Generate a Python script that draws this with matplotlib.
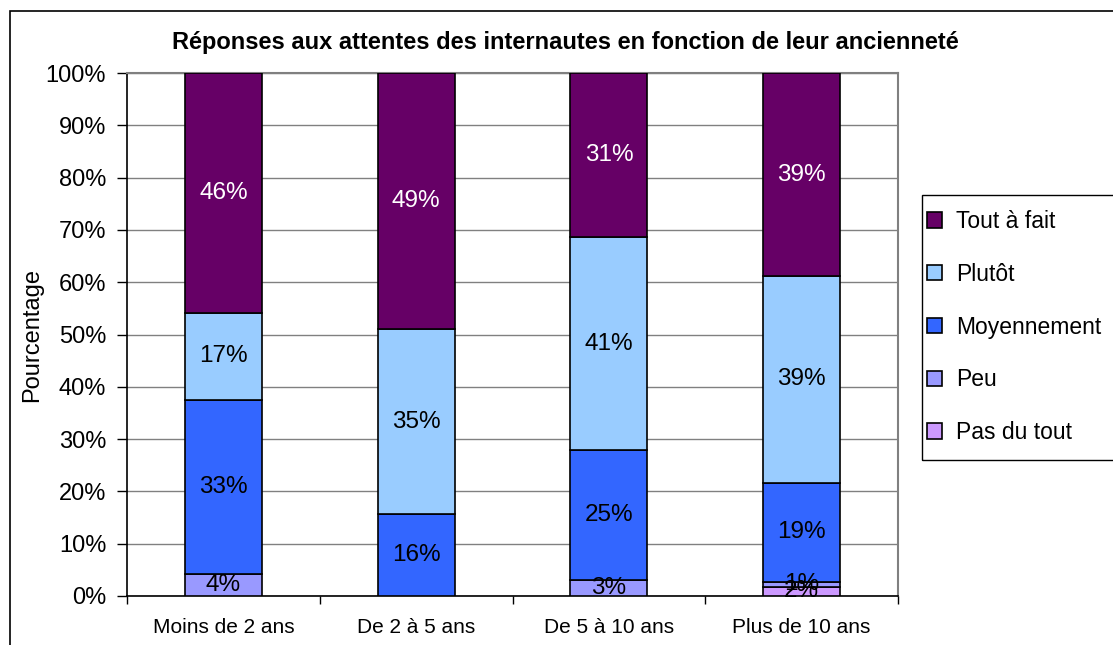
import numpy as np
import matplotlib.pyplot as plt
from matplotlib.patches import Rectangle

plt.rcParams['font.family'] = ['Liberation Sans', 'DejaVu Sans']

categories = ['Moins de 2 ans', 'De 2 à 5 ans', 'De 5 à 10 ans', 'Plus de 10 ans']
series = ['Pas du tout', 'Peu', 'Moyennement', 'Plutôt', 'Tout à fait']
pas_du_tout = [0.0, 0.0, 0.0, 1.8]
peu = [4.2, 0.0, 3.1, 0.8]
moyennement = [33.3, 15.6, 24.8, 19.1]
plutot = [16.6, 35.4, 40.7, 39.4]
tout_a_fait = [45.9, 49.0, 31.4, 38.9]
colors = ['#CC99FF', '#9999FF', '#3366FF', '#99CCFF', '#660066']
text_colors = ['black', 'black', 'black', 'black', 'white']

values = [pas_du_tout, peu, moyennement, plutot, tout_a_fait]

fig = plt.figure(figsize=(11.13, 6.45), dpi=100)
ax = fig.add_axes([127 / 1113, 1 - 596 / 645, (898 - 127) / 1113, (596 - 73) / 645])

x = np.arange(len(categories))
bottom = np.zeros(len(categories))
handles = []
for name, vals, col, tcol in zip(series, values, colors, text_colors):
    vals = np.array(vals)
    bars = ax.bar(x, vals, 0.4, bottom=bottom, color=col, edgecolor='black',
                  linewidth=1.2, label=name, zorder=3)
    handles.append(bars)
    for xi, b, v in zip(x, bottom, vals):
        if v > 0:
            ax.text(xi, b + v / 2, f"{v:.0f}%", ha='center', va='center',
                    fontsize=17.5, color=tcol, zorder=4)
    bottom += vals

ax.set_xlim(-0.5, 3.5)
ax.set_ylim(0, 100)
ax.set_yticks(np.arange(0, 101, 10))
ax.set_yticklabels([f"{v}%" for v in range(0, 101, 10)], fontsize=17)
ax.yaxis.grid(True, color='#808080', linewidth=1, zorder=0)
ax.tick_params(axis='y', direction='out', length=7, width=1, pad=8)

ax.set_xticks(x)
ax.set_xticklabels(categories, fontsize=15)
ax.set_xticks(np.arange(-0.5, 4, 1), minor=True)
ax.tick_params(axis='x', which='major', length=0, pad=16)
ax.tick_params(axis='x', which='minor', direction='out', length=6, width=1)

for side in ['top', 'right']:
    ax.spines[side].set_color('#808080')
    ax.spines[side].set_linewidth(1.5)
for side in ['left', 'bottom']:
    ax.spines[side].set_color('black')
    ax.spines[side].set_linewidth(1.2)

ax.set_ylabel('Pourcentage', fontsize=17, labelpad=2)
fig.text(0.508, 1 - 42 / 645, "Réponses aux attentes des internautes en fonction de leur ancienneté",
         ha='center', va='center', fontsize=17, fontweight='bold')

leg = fig.legend(handles[::-1], series[::-1], loc='upper left',
                 bbox_to_anchor=(927 / 1113, 1 - 210 / 645), fontsize=16.5,
                 frameon=False, handlelength=0.65, handleheight=0.65,
                 handletextpad=0.6, labelspacing=1.3, borderpad=0,
                 borderaxespad=0)

fig.patches.append(Rectangle((922 / 1113, 1 - 460 / 645), 0.3, (460 - 195) / 645,
                             transform=fig.transFigure, fill=False,
                             edgecolor='black', linewidth=1))
fig.patches.append(Rectangle((10 / 1113, -0.05), 1.1, 1 - 11 / 645 + 0.05,
                             transform=fig.transFigure, fill=False,
                             edgecolor='black', linewidth=1.2))

fig.savefig('out.png', dpi=100)
